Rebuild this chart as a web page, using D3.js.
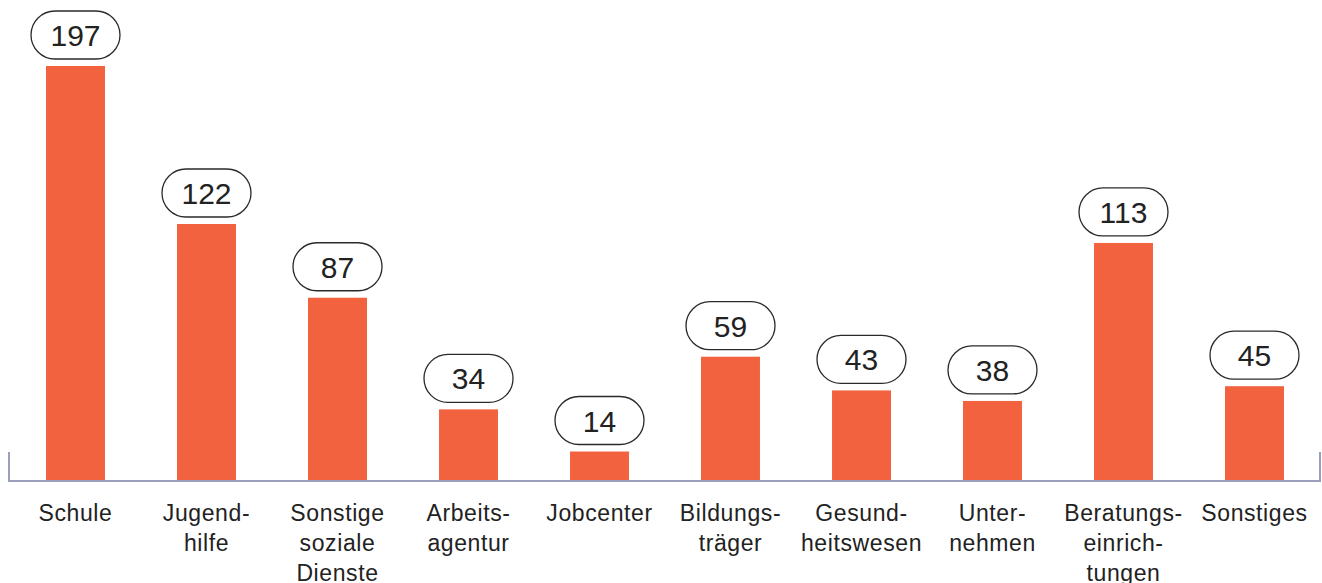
<!DOCTYPE html>
<html>
<head>
<meta charset="utf-8">
<script src="https://cdn.jsdelivr.net/npm/d3@7"></script>
<style>
  html, body { margin: 0; padding: 0; background: #fff; }
  svg { display: block; }
</style>
</head>
<body>
<svg width="1322" height="583"></svg>
<script>
// categories, split into the lines as printed
var categories = ["Schule", "Jugendhilfe", "Sonstige soziale Dienste", "Arbeitsagentur", "Jobcenter",
    "Bildungsträger", "Gesundheitswesen", "Unternehmen", "Beratungseinrichtungen", "Sonstiges"];
var labelLines = [
    ["Schule"],
    ["Jugend-", "hilfe"],
    ["Sonstige", "soziale", "Dienste"],
    ["Arbeits-", "agentur"],
    ["Jobcenter"],
    ["Bildungs-", "träger"],
    ["Gesund-", "heitswesen"],
    ["Unter-", "nehmen"],
    ["Beratungs-", "einrich-", "tungen"],
    ["Sonstiges"]
];
var values = [197, 122, 87, 34, 14, 59, 43, 38, 113, 45];

document.addEventListener('DOMContentLoaded', function() {
    draw();
});

function draw() {
    var svg = d3.select("svg");
    var baseY = 481;

    var x = d3.scaleBand()
        .domain(categories)
        .range([10, 1320])
        .paddingInner(0.55)
        .paddingOuter(0.275);

    var y = d3.scaleLinear()
        .domain([0, 197])
        .range([baseY, 66]);

    var data = categories.map(function(c, i) {
        return { cat: c, value: values[i], lines: labelLines[i] };
    });

    // bars
    svg.append("g")
        .selectAll("rect")
        .data(data)
        .enter().append("rect")
        .attr("x", function(d) { return x(d.cat); })
        .attr("y", function(d) { return y(d.value); })
        .attr("width", x.bandwidth())
        .attr("height", function(d) { return baseY - y(d.value); })
        .attr("fill", "#f2623f");

    // baseline with end ticks
    var axisColor = "#9c9fbb";
    svg.append("path")
        .attr("d", "M9," + (baseY - 29) + "V" + baseY + "H1320V" + (baseY - 29))
        .attr("fill", "none")
        .attr("stroke", axisColor)
        .attr("stroke-width", 2);

    // value pills
    var pillW = 89, pillH = 48;
    var pills = svg.append("g")
        .selectAll("g")
        .data(data)
        .enter().append("g")
        .attr("transform", function(d) {
            var cx = x(d.cat) + x.bandwidth() / 2;
            var cy = y(d.value) - 7 - pillH / 2;
            return "translate(" + cx + "," + cy + ")";
        });

    pills.append("rect")
        .attr("x", -pillW / 2)
        .attr("y", -pillH / 2)
        .attr("width", pillW)
        .attr("height", pillH)
        .attr("rx", pillH / 2)
        .attr("fill", "#fff")
        .attr("stroke", "#2a2a2a")
        .attr("stroke-width", 1.3);

    pills.append("text")
        .attr("text-anchor", "middle")
        .attr("y", 11)
        .attr("font-family", "Liberation Sans, Arial, sans-serif")
        .attr("font-size", "30px")
        .attr("fill", "#222")
        .text(function(d) { return d.value; });

    // category labels
    svg.append("g")
        .selectAll("text")
        .data(data)
        .enter().append("text")
        .attr("text-anchor", "middle")
        .attr("font-family", "Liberation Sans, Arial, sans-serif")
        .attr("font-size", "23px")
        .attr("letter-spacing", "0.6px")
        .attr("fill", "#222")
        .attr("transform", function(d) {
            return "translate(" + (x(d.cat) + x.bandwidth() / 2) + ",521)";
        })
        .selectAll("tspan")
        .data(function(d) { return d.lines; })
        .enter().append("tspan")
        .attr("x", 0)
        .attr("y", function(l, i) { return i * 30; })
        .text(function(l) { return l; });
}
</script>
</body>
</html>
